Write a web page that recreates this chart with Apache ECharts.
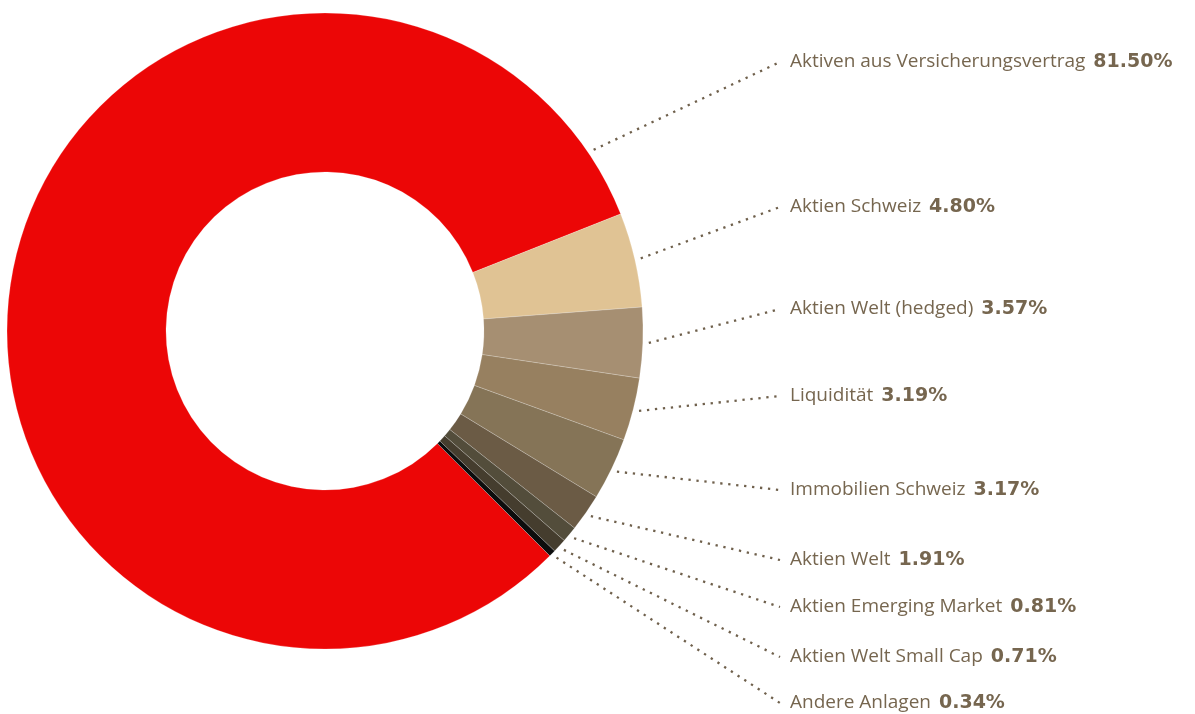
<!DOCTYPE html>
<html>
<head>
<meta charset="utf-8">
<script src="https://cdn.jsdelivr.net/npm/echarts@6/dist/echarts.min.js"></script>
<style>
  html, body { margin: 0; padding: 0; background: #fff; }
  #myChart { width: 1195px; height: 714px; }
</style>
</head>
<body>
<div id="myChart"></div>
<script>
// data
const names = [
  'Aktiven aus Versicherungsvertrag',
  'Aktien Schweiz',
  'Aktien Welt (hedged)',
  'Liquidität',
  'Immobilien Schweiz',
  'Aktien Welt',
  'Aktien Emerging Market',
  'Aktien Welt Small Cap',
  'Andere Anlagen'
]
const values = [81.50, 4.80, 3.57, 3.19, 3.17, 1.91, 0.81, 0.71, 0.34]
const colors = ['#ec0606', '#e0c394', '#a68f72', '#978060', '#857457', '#6b5b45', '#534d3b', '#453d2e', '#0d0d0d']

// layout
const cx = 325
const cy = 331
const rOuter = 318
const rInner = 159
const startAngle = -45
const labelX = 790
const labelY = [62, 207, 309, 396, 490, 560, 607, 657, 703]
const firstLineAngle = 34 // leader of the big slice starts upper right
const textColor = '#76664f'

const total = values.reduce((a, b) => a + b, 0)
const midAngles = []
let acc = 0
values.forEach(v => {
  midAngles.push(startAngle - (acc + v / 2) / total * 360)
  acc += v
})
midAngles[0] = firstLineAngle

let myChart = echarts.init(document.getElementById('myChart'))
myChart.setOption({
  animation: false,
  series: [
    {
      type: 'pie',
      center: [cx, cy],
      radius: [rInner, rOuter],
      startAngle: startAngle,
      clockwise: true,
      avoidLabelOverlap: false,
      silent: true,
      itemStyle: {
        borderColor: 'rgba(255,255,255,0.35)',
        borderWidth: 0.6
      },
      label: {
        show: true,
        position: 'outside',
        formatter: p => '{n|' + p.name + '}{s| }{v|' + p.value.toFixed(2) + '%}',
        rich: {
          n: { fontFamily: 'Open Sans', fontSize: 19, color: textColor },
          s: { fontFamily: 'Open Sans', fontSize: 19, width: 8 },
          v: { fontFamily: 'DejaVu Sans', fontSize: 19, fontWeight: 'bold', color: textColor }
        }
      },
      labelLine: {
        show: true,
        length: 10,
        length2: 10,
        lineStyle: { color: '#6f604c', width: 2.3, type: [2.3, 5.7] }
      },
      labelLayout: function (p) {
        const i = p.dataIndex
        const a = midAngles[i] * Math.PI / 180
        const rl = rOuter + 6
        const sx = cx + rl * Math.cos(a)
        const sy = cy - rl * Math.sin(a)
        const ex = labelX - 10
        return {
          x: labelX,
          y: labelY[i],
          align: 'left',
          verticalAlign: 'middle',
          labelLinePoints: [[sx, sy], [ex, labelY[i]], [ex, labelY[i]]]
        }
      },
      data: names.map((n, i) => ({ name: n, value: values[i], itemStyle: { color: colors[i] } }))
    }
  ]
})
</script>
</body>
</html>
